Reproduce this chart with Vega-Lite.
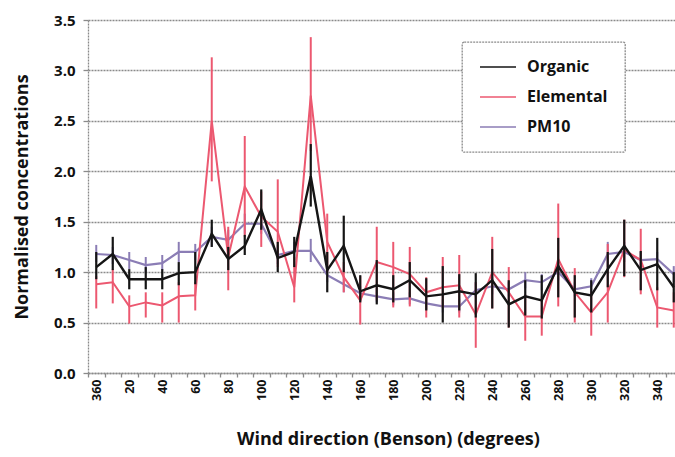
{
  "$schema": "https://vega.github.io/schema/vega-lite/v6.json",
  "autosize": {"type": "none"},
  "width": 587,
  "height": 353,
  "padding": {"left": 88, "top": 20, "right": 0, "bottom": 84},
  "background": "white",
  "config": {
    "view": {"stroke": null},
    "font": "Open Sans",
    "axis": {
      "labelFont": "Open Sans",
      "labelFontWeight": "bold",
      "labelColor": "#111111",
      "titleFont": "Open Sans",
      "titleFontWeight": "bold",
      "titleColor": "#111111",
      "titleFontSize": 18,
      "domainColor": "#8a8a8a",
      "domainDash": [2, 1],
      "domainWidth": 1.3,
      "tickColor": "#8a8a8a",
      "tickWidth": 1.3
    }
  },
  "data": {
    "values": [
      {"dir": 360, "series": "Organic", "v": 1.05, "lo": 0.93, "hi": 1.2},
      {"dir": 10, "series": "Organic", "v": 1.18, "lo": 1.02, "hi": 1.35},
      {"dir": 20, "series": "Organic", "v": 0.93, "lo": 0.83, "hi": 1.03},
      {"dir": 30, "series": "Organic", "v": 0.93, "lo": 0.83, "hi": 1.05},
      {"dir": 40, "series": "Organic", "v": 0.93, "lo": 0.83, "hi": 1.03},
      {"dir": 50, "series": "Organic", "v": 0.99, "lo": 0.87, "hi": 1.1},
      {"dir": 60, "series": "Organic", "v": 1.0, "lo": 0.88, "hi": 1.2},
      {"dir": 70, "series": "Organic", "v": 1.38, "lo": 1.25, "hi": 1.52},
      {"dir": 80, "series": "Organic", "v": 1.13, "lo": 1.02, "hi": 1.25},
      {"dir": 90, "series": "Organic", "v": 1.26, "lo": 1.17, "hi": 1.37},
      {"dir": 100, "series": "Organic", "v": 1.62, "lo": 1.42, "hi": 1.82},
      {"dir": 110, "series": "Organic", "v": 1.14, "lo": 1.0, "hi": 1.3},
      {"dir": 120, "series": "Organic", "v": 1.2, "lo": 1.05, "hi": 1.35},
      {"dir": 130, "series": "Organic", "v": 1.95, "lo": 1.65, "hi": 2.27},
      {"dir": 140, "series": "Organic", "v": 1.02, "lo": 0.8, "hi": 1.2},
      {"dir": 150, "series": "Organic", "v": 1.26, "lo": 1.0, "hi": 1.56},
      {"dir": 160, "series": "Organic", "v": 0.81, "lo": 0.7, "hi": 0.97},
      {"dir": 170, "series": "Organic", "v": 0.87, "lo": 0.68, "hi": 1.12},
      {"dir": 180, "series": "Organic", "v": 0.83, "lo": 0.7, "hi": 0.97},
      {"dir": 190, "series": "Organic", "v": 0.92, "lo": 0.75, "hi": 1.1},
      {"dir": 200, "series": "Organic", "v": 0.76, "lo": 0.62, "hi": 0.94},
      {"dir": 210, "series": "Organic", "v": 0.78, "lo": 0.5, "hi": 1.06},
      {"dir": 220, "series": "Organic", "v": 0.81, "lo": 0.62, "hi": 0.98},
      {"dir": 230, "series": "Organic", "v": 0.78, "lo": 0.55, "hi": 0.99},
      {"dir": 240, "series": "Organic", "v": 0.92, "lo": 0.64, "hi": 1.23},
      {"dir": 250, "series": "Organic", "v": 0.68, "lo": 0.45, "hi": 0.92},
      {"dir": 260, "series": "Organic", "v": 0.76, "lo": 0.57, "hi": 0.92},
      {"dir": 270, "series": "Organic", "v": 0.72, "lo": 0.54, "hi": 0.97},
      {"dir": 280, "series": "Organic", "v": 1.06, "lo": 0.75, "hi": 1.34},
      {"dir": 290, "series": "Organic", "v": 0.8, "lo": 0.55, "hi": 0.97},
      {"dir": 300, "series": "Organic", "v": 0.77, "lo": 0.6, "hi": 0.92},
      {"dir": 310, "series": "Organic", "v": 1.03, "lo": 0.85, "hi": 1.2},
      {"dir": 320, "series": "Organic", "v": 1.26, "lo": 0.96, "hi": 1.52},
      {"dir": 330, "series": "Organic", "v": 1.02, "lo": 0.82, "hi": 1.21},
      {"dir": 340, "series": "Organic", "v": 1.08, "lo": 0.82, "hi": 1.34},
      {"dir": 350, "series": "Organic", "v": 0.85, "lo": 0.7, "hi": 1.0},

      {"dir": 360, "series": "Elemental", "v": 0.88, "lo": 0.64, "hi": 0.96},
      {"dir": 10, "series": "Elemental", "v": 0.9, "lo": 0.69, "hi": 1.03},
      {"dir": 20, "series": "Elemental", "v": 0.66, "lo": 0.49, "hi": 0.77},
      {"dir": 30, "series": "Elemental", "v": 0.7, "lo": 0.55, "hi": 0.8},
      {"dir": 40, "series": "Elemental", "v": 0.67, "lo": 0.5, "hi": 0.8},
      {"dir": 50, "series": "Elemental", "v": 0.76, "lo": 0.5, "hi": 0.9},
      {"dir": 60, "series": "Elemental", "v": 0.77, "lo": 0.62, "hi": 0.9},
      {"dir": 70, "series": "Elemental", "v": 2.5, "lo": 1.9, "hi": 3.13},
      {"dir": 80, "series": "Elemental", "v": 1.15, "lo": 0.82, "hi": 1.45},
      {"dir": 90, "series": "Elemental", "v": 1.85, "lo": 1.35, "hi": 2.35},
      {"dir": 100, "series": "Elemental", "v": 1.55, "lo": 1.25, "hi": 1.8},
      {"dir": 110, "series": "Elemental", "v": 1.4, "lo": 1.05, "hi": 1.92},
      {"dir": 120, "series": "Elemental", "v": 0.85, "lo": 0.7, "hi": 1.15},
      {"dir": 130, "series": "Elemental", "v": 2.75, "lo": 2.2, "hi": 3.33},
      {"dir": 140, "series": "Elemental", "v": 1.3, "lo": 1.0, "hi": 1.58},
      {"dir": 150, "series": "Elemental", "v": 0.95, "lo": 0.8, "hi": 1.1},
      {"dir": 160, "series": "Elemental", "v": 0.72, "lo": 0.48, "hi": 0.96},
      {"dir": 170, "series": "Elemental", "v": 1.1, "lo": 0.72, "hi": 1.45},
      {"dir": 180, "series": "Elemental", "v": 1.05, "lo": 0.65, "hi": 1.3},
      {"dir": 190, "series": "Elemental", "v": 0.98, "lo": 0.66, "hi": 1.25},
      {"dir": 200, "series": "Elemental", "v": 0.8, "lo": 0.55, "hi": 0.95},
      {"dir": 210, "series": "Elemental", "v": 0.85, "lo": 0.65, "hi": 1.15},
      {"dir": 220, "series": "Elemental", "v": 0.87, "lo": 0.55, "hi": 1.17},
      {"dir": 230, "series": "Elemental", "v": 0.58, "lo": 0.25, "hi": 0.9},
      {"dir": 240, "series": "Elemental", "v": 1.0, "lo": 0.64, "hi": 1.35},
      {"dir": 250, "series": "Elemental", "v": 0.8, "lo": 0.45, "hi": 1.05},
      {"dir": 260, "series": "Elemental", "v": 0.56, "lo": 0.32, "hi": 0.78},
      {"dir": 270, "series": "Elemental", "v": 0.56, "lo": 0.37, "hi": 0.76},
      {"dir": 280, "series": "Elemental", "v": 1.13, "lo": 0.66, "hi": 1.68},
      {"dir": 290, "series": "Elemental", "v": 0.8, "lo": 0.5, "hi": 1.04},
      {"dir": 300, "series": "Elemental", "v": 0.6, "lo": 0.37, "hi": 0.8},
      {"dir": 310, "series": "Elemental", "v": 0.8, "lo": 0.5, "hi": 1.28},
      {"dir": 320, "series": "Elemental", "v": 1.22, "lo": 0.95, "hi": 1.52},
      {"dir": 330, "series": "Elemental", "v": 1.12, "lo": 0.78, "hi": 1.43},
      {"dir": 340, "series": "Elemental", "v": 0.65, "lo": 0.45, "hi": 0.85},
      {"dir": 350, "series": "Elemental", "v": 0.62, "lo": 0.45, "hi": 0.8},

      {"dir": 360, "series": "PM10", "v": 1.18, "lo": 1.1, "hi": 1.27},
      {"dir": 10, "series": "PM10", "v": 1.17, "lo": 1.08, "hi": 1.25},
      {"dir": 20, "series": "PM10", "v": 1.12, "lo": 1.03, "hi": 1.2},
      {"dir": 30, "series": "PM10", "v": 1.07, "lo": 1.0, "hi": 1.15},
      {"dir": 40, "series": "PM10", "v": 1.09, "lo": 1.02, "hi": 1.17},
      {"dir": 50, "series": "PM10", "v": 1.2, "lo": 1.1, "hi": 1.3},
      {"dir": 60, "series": "PM10", "v": 1.2, "lo": 1.12, "hi": 1.28},
      {"dir": 70, "series": "PM10", "v": 1.35, "lo": 1.25, "hi": 1.45},
      {"dir": 80, "series": "PM10", "v": 1.32, "lo": 1.22, "hi": 1.42},
      {"dir": 90, "series": "PM10", "v": 1.48, "lo": 1.38, "hi": 1.58},
      {"dir": 100, "series": "PM10", "v": 1.48, "lo": 1.38, "hi": 1.58},
      {"dir": 110, "series": "PM10", "v": 1.17, "lo": 1.08, "hi": 1.27},
      {"dir": 120, "series": "PM10", "v": 1.21, "lo": 1.12, "hi": 1.3},
      {"dir": 130, "series": "PM10", "v": 1.21, "lo": 1.1, "hi": 1.33},
      {"dir": 140, "series": "PM10", "v": 0.97, "lo": 0.9, "hi": 1.05},
      {"dir": 150, "series": "PM10", "v": 0.88, "lo": 0.8, "hi": 0.96},
      {"dir": 160, "series": "PM10", "v": 0.79, "lo": 0.72, "hi": 0.86},
      {"dir": 170, "series": "PM10", "v": 0.76, "lo": 0.7, "hi": 0.84},
      {"dir": 180, "series": "PM10", "v": 0.73, "lo": 0.67, "hi": 0.8},
      {"dir": 190, "series": "PM10", "v": 0.74, "lo": 0.68, "hi": 0.8},
      {"dir": 200, "series": "PM10", "v": 0.69, "lo": 0.63, "hi": 0.76},
      {"dir": 210, "series": "PM10", "v": 0.66, "lo": 0.6, "hi": 0.73},
      {"dir": 220, "series": "PM10", "v": 0.66, "lo": 0.6, "hi": 0.73},
      {"dir": 230, "series": "PM10", "v": 0.82, "lo": 0.75, "hi": 0.9},
      {"dir": 240, "series": "PM10", "v": 0.86, "lo": 0.78, "hi": 0.95},
      {"dir": 250, "series": "PM10", "v": 0.83, "lo": 0.76, "hi": 0.9},
      {"dir": 260, "series": "PM10", "v": 0.92, "lo": 0.84, "hi": 1.0},
      {"dir": 270, "series": "PM10", "v": 0.9, "lo": 0.82, "hi": 0.98},
      {"dir": 280, "series": "PM10", "v": 1.0, "lo": 0.92, "hi": 1.08},
      {"dir": 290, "series": "PM10", "v": 0.83, "lo": 0.76, "hi": 0.9},
      {"dir": 300, "series": "PM10", "v": 0.86, "lo": 0.78, "hi": 0.94},
      {"dir": 310, "series": "PM10", "v": 1.18, "lo": 1.05, "hi": 1.3},
      {"dir": 320, "series": "PM10", "v": 1.2, "lo": 1.1, "hi": 1.3},
      {"dir": 330, "series": "PM10", "v": 1.12, "lo": 1.04, "hi": 1.2},
      {"dir": 340, "series": "PM10", "v": 1.13, "lo": 1.05, "hi": 1.2},
      {"dir": 350, "series": "PM10", "v": 0.98, "lo": 0.9, "hi": 1.06}
    ]
  },
  "encoding": {
    "x": {
      "field": "dir",
      "type": "ordinal",
      "sort": [360, 10, 20, 30, 40, 50, 60, 70, 80, 90, 100, 110, 120, 130, 140, 150, 160, 170, 180, 190, 200, 210, 220, 230, 240, 250, 260, 270, 280, 290, 300, 310, 320, 330, 340, 350],
      "scale": {"type": "band", "range": [0, 594], "paddingInner": 0, "paddingOuter": 0},
      "axis": {
        "title": "Wind direction (Benson) (degrees)",
        "titleX": 300,
        "titleY": 57,
        "titleAlign": "center",
        "titleBaseline": "top",
        "labelAngle": -90,
        "labelFontSize": 12.5,
        "labelPadding": 2,
        "labelExpr": "datum.value % 20 == 0 ? datum.label : ''",
        "tickBand": "extent",
        "tickSize": 4,
        "grid": false
      }
    },
    "color": {
      "field": "series",
      "type": "nominal",
      "scale": {
        "domain": ["Organic", "Elemental", "PM10"],
        "range": ["#151515", "#ec5870", "#8b7db5"]
      },
      "legend": {
        "title": null,
        "orient": "none",
        "legendX": 374,
        "legendY": 22,
        "padding": 17,
        "strokeColor": "#8a8a8a",
        "fillColor": "white",
        "cornerRadius": 2,
        "symbolType": "stroke",
        "symbolSize": 1296,
        "symbolStrokeWidth": 1.5,
        "clipHeight": 16,
        "labelFont": "Open Sans",
        "labelFontSize": 16,
        "labelFontWeight": "bold",
        "labelColor": "#111111",
        "labelOffset": 10,
        "rowPadding": 14,
        "encode": {"legend": {"update": {"strokeDash": {"value": [2, 1]}, "strokeWidth": {"value": 1.3}}}}
      }
    }
  },
  "layer": [
    {
      "transform": [{"filter": "datum.series == 'PM10'"}],
      "mark": {"type": "rule", "strokeWidth": 2},
      "encoding": {"y": {"field": "lo", "type": "quantitative"}, "y2": {"field": "hi"}}
    },
    {
      "transform": [{"filter": "datum.series == 'PM10'"}],
      "mark": {"type": "line", "strokeWidth": 2.2},
      "encoding": {
        "y": {
          "field": "v",
          "type": "quantitative",
          "scale": {"domain": [0, 3.5], "nice": false},
          "axis": {
            "title": "Normalised concentrations",
            "titlePadding": 22,
            "values": [0, 0.5, 1, 1.5, 2, 2.5, 3, 3.5],
            "format": ".1f",
            "labelFontSize": 15,
            "labelPadding": 8,
            "tickSize": 5,
            "grid": true,
            "gridColor": "#8a8a8a",
            "gridDash": [2, 1],
            "gridWidth": 1.3
          }
        }
      }
    },
    {
      "transform": [{"filter": "datum.series == 'Elemental'"}],
      "mark": {"type": "rule", "strokeWidth": 2},
      "encoding": {"y": {"field": "lo", "type": "quantitative"}, "y2": {"field": "hi"}}
    },
    {
      "transform": [{"filter": "datum.series == 'Elemental'"}],
      "mark": {"type": "line", "strokeWidth": 2},
      "encoding": {"y": {"field": "v", "type": "quantitative"}}
    },
    {
      "transform": [{"filter": "datum.series == 'Organic'"}],
      "mark": {"type": "rule", "strokeWidth": 2.2},
      "encoding": {"y": {"field": "lo", "type": "quantitative"}, "y2": {"field": "hi"}}
    },
    {
      "transform": [{"filter": "datum.series == 'Organic'"}],
      "mark": {"type": "line", "strokeWidth": 2.4},
      "encoding": {"y": {"field": "v", "type": "quantitative"}}
    }
  ]
}
